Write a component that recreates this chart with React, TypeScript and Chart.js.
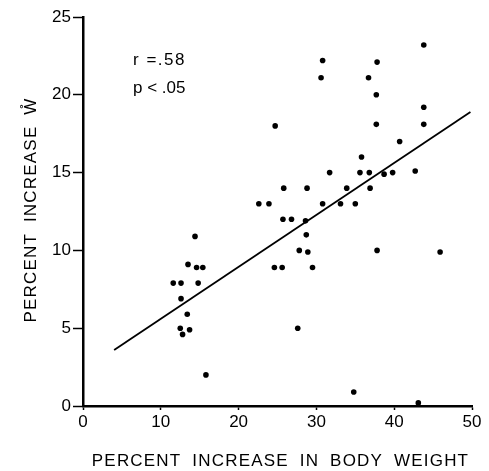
import React, { useEffect, useRef } from "react";
import { Chart, registerables } from "chart.js";

Chart.register(...registerables);

// Percent increase in body weight (x) for each subject
const weightIncrease = [
  24.7, 25.8, 22.6, 23.9, 43.8, 30.8, 30.6, 37.8, 36.7, 37.7,
  43.8, 37.7, 43.8, 40.7, 35.8, 31.7, 35.6, 36.8, 38.7, 39.8,
  42.7, 28.8, 33.9, 36.9, 30.8, 33.1, 35.0, 25.7, 26.8, 28.6,
  28.7, 27.8, 28.9, 29.5, 37.8, 45.9, 27.6, 34.8, 43.1, 14.4,
  13.5, 14.6, 15.4, 24.6, 25.6, 11.6, 12.6, 14.8, 12.6, 13.4,
  12.5, 13.7, 12.8, 15.8,
];
// Percent increase in W (y) for each subject
const wIncrease = [
  18.0, 14.0, 13.0, 13.0, 23.2, 22.2, 21.1, 22.1, 21.1, 20.0,
  19.2, 18.1, 18.1, 17.0, 16.0, 15.0, 15.0, 15.0, 14.9, 15.0,
  15.1, 14.0, 14.0, 14.0, 13.0, 13.0, 13.0, 12.0, 12.0, 11.9,
  11.0, 10.0, 9.9, 8.9, 10.0, 9.9, 5.0, 0.9, 0.2, 10.9,
  9.1, 8.9, 8.9, 8.9, 8.9, 7.9, 7.9, 7.9, 6.9, 5.9,
  5.0, 4.9, 4.6, 2.0,
];
// Regression line end points
const fitX = [4, 49.8];
const fitY = [3.6, 18.9];

const xTicks = [0, 10, 20, 30, 40, 50];
const yTicks = [0, 5, 10, 15, 20, 25];
const xTitle = "PERCENT INCREASE IN BODY WEIGHT";
const yTitle = "PERCENT INCREASE W\u030A";
const statLines = ["r =.58", "p < .05"];

const FONT = '"Liberation Sans", Arial, Helvetica, sans-serif';

const textPlugin = {
  id: "figureTexts",
  afterDraw(chart: any) {
    const ctx = chart.ctx as any;
    const area = chart.chartArea;
    ctx.save();
    ctx.fillStyle = "#000";
    ctx.font = `17px ${FONT}`;
    ctx.letterSpacing = "1.2px";
    ctx.wordSpacing = "5px";
    ctx.textAlign = "center";
    ctx.textBaseline = "middle";
    ctx.fillText(xTitle, (area.left + area.right) / 2 + 3, 461);
    ctx.translate(31, 210);
    ctx.rotate(-Math.PI / 2);
    ctx.fillText(yTitle, 0, 0);
    ctx.restore();

    ctx.save();
    ctx.fillStyle = "#000";
    ctx.font = `17px ${FONT}`;
    ctx.textAlign = "left";
    ctx.textBaseline = "alphabetic";
    ctx.letterSpacing = "1.5px";
    ctx.fillText(statLines[0], area.left + 50, 65);
    ctx.letterSpacing = "0px";
    ctx.fillText(statLines[1], area.left + 50, 93);
    ctx.restore();
  },
};

export default function App() {
  const ref = useRef<HTMLCanvasElement | null>(null);

  useEffect(() => {
    if (!ref.current) return;
    const points = weightIncrease.map((x, i) => ({ x, y: wIncrease[i] }));
    const line = fitX.map((x, i) => ({ x, y: fitY[i] }));
    const tickFont = { family: FONT, size: 17 };
    const chart = new Chart(ref.current, {
      type: "scatter",
      data: {
        datasets: [
          {
            data: points,
            pointRadius: 2.8,
            pointBackgroundColor: "#000",
            pointBorderWidth: 0,
            clip: false as any,
          },
          {
            data: line,
            showLine: true,
            borderColor: "#000",
            borderWidth: 1.8,
            pointRadius: 0,
            fill: false,
          } as any,
        ],
      },
      options: {
        animation: false,
        responsive: false,
        devicePixelRatio: 1,
        layout: { padding: { top: 17, right: 17, left: 0, bottom: 0 } },
        plugins: { legend: { display: false }, tooltip: { enabled: false } },
        scales: {
          x: {
            type: "linear",
            min: 0,
            max: 50,
            afterBuildTicks: (s: any) => {
              s.ticks = xTicks.map((v) => ({ value: v }));
            },
            afterFit: (s: any) => {
              s.height = 65;
            },
            ticks: { color: "#000", font: tickFont, padding: 2, maxRotation: 0, autoSkip: false },
            grid: { drawOnChartArea: false, drawTicks: true, tickLength: 4, tickColor: "#000", tickWidth: 1.5 },
            border: { display: true, color: "#000", width: 2.5 },
          },
          y: {
            type: "linear",
            min: 0,
            max: 25,
            afterBuildTicks: (s: any) => {
              s.ticks = yTicks.map((v) => ({ value: v }));
            },
            afterFit: (s: any) => {
              s.width = 83;
            },
            ticks: { color: "#000", font: tickFont, padding: 2, autoSkip: false },
            grid: { drawOnChartArea: false, drawTicks: true, tickLength: 10, tickColor: "#000", tickWidth: 1.5 },
            border: { display: true, color: "#000", width: 2.5 },
          },
        },
      },
      plugins: [textPlugin],
    });
    return () => chart.destroy();
  }, []);

  return (
    <div style={{ position: "fixed", left: 0, top: 0, width: 489, height: 471, background: "#fff" }}>
      <canvas ref={ref} width={489} height={471} style={{ display: "block" }} />
    </div>
  );
}
